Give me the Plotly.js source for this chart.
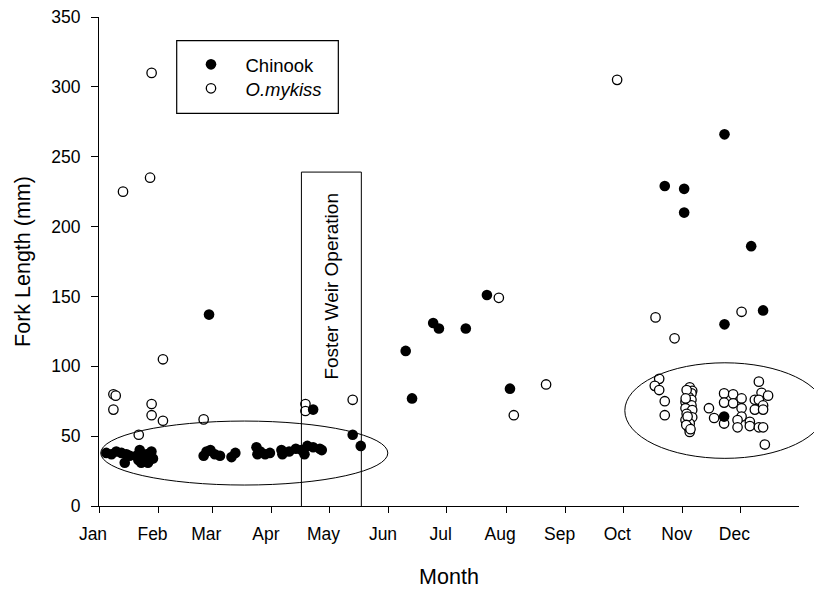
<!DOCTYPE html>
<html>
<head>
<meta charset="utf-8">
<script src="https://cdn.plot.ly/plotly-3.0.1.min.js"></script>
<style>html,body{margin:0;padding:0;background:#fff;}#chart{width:814px;height:590px;}</style>
</head>
<body>
<div id="chart"></div>
<script>
// Month tick positions (day of year) and labels
var monthDays = [0, 31, 59, 90, 120, 151, 181, 212, 243, 273, 304, 334];
var monthLabels = ["Jan","Feb","Mar","Apr","May","Jun","Jul","Aug","Sep","Oct","Nov","Dec"];

// Chinook: day of year and fork length (mm)
var chinookDay = [3.8, 6.5, 9.0, 11.7, 13.4, 14.3, 16.0, 19.5, 20.5, 21.2, 22.0, 23.8, 24.7, 25.5, 26.4, 27.3, 28.1,
  54.5, 56, 58, 60.3, 63, 69, 71, 82, 82.5, 84, 86.5, 89, 95, 95.5, 99, 102.5, 105.5, 107, 108.5, 111.5, 115, 116,
  57.3, 111.5, 132.1, 136.3, 159.7, 163, 174, 177, 191, 202, 214, 294.6, 304.7, 304.7, 325.7, 339.6, 325.7, 345.8, 325.5];
var chinookLen = [38, 37, 39, 38, 31, 37, 36, 36, 33, 40, 31, 36, 37, 31, 33, 39, 34,
  36, 39, 40, 37, 36, 35, 38, 42, 37, 39, 37, 38, 40, 37, 39, 41, 40, 37, 43, 42, 41, 40,
  137, 69, 51, 43, 111, 77, 131, 127, 127, 151, 84, 229, 227, 210, 266, 186, 130, 140, 64];

// O. mykiss: day of year and fork length (mm)
var mykissDay = [12.5, 26.6, 27.4, 7.5, 8.7, 7.5, 27.4, 27.4, 33.3, 33.3, 20.7, 54.5, 107.5, 107.5, 132.1,
  208.2, 216, 232.8, 269.8, 289.8, 299.7, 334.6,
  291.7, 289.4, 291.7, 294.6, 294.6,
  307.6, 308.9, 308.5, 307.1, 308.5, 305.4, 308.5, 305.4, 308.9, 306, 308.9, 305.4, 307.6, 307.1, 307.6, 306, 305.5, 306.5, 305.8, 308,
  317.6, 320.3, 325.5, 325.5, 325.5, 330.2, 330.2, 334.6, 334.6, 334.6, 332.5, 332.5, 338.9, 338.9,
  343.6, 345, 348.4, 341.5, 343.6, 345.8, 341.5, 345.8, 343.6, 345.8, 346.7];
var mykissLen = [225, 235, 310, 80, 79, 69, 73, 65, 105, 61, 51, 62, 73, 68, 76,
  149, 65, 87, 305, 135, 120, 139,
  91, 86, 83, 75, 65,
  85, 82.5, 80.6, 78, 76, 74.5, 72, 70, 68.7, 66, 63.5, 61.5, 59, 56, 53, 83, 77, 64, 58, 55,
  70, 63, 59, 80.6, 74, 80, 73.5, 77, 70, 64, 61.5, 56.3, 60.3, 57.2,
  89, 81, 79, 76, 76, 72, 69, 69, 56.3, 56.3, 44];

var xRange = [0, 364.5];
var yRange = [0, 350];
function px(d) { return (d - xRange[0]) / (xRange[1] - xRange[0]); }
function py(v) { return (v - yRange[0]) / (yRange[1] - yRange[0]); }

var font = "Liberation Sans, Arial, sans-serif";

var traces = [
  { x: mykissDay, y: mykissLen, type: "scatter", mode: "markers", name: "<i>O.mykiss</i>", legend: "legend2",
    marker: { symbol: "circle", size: 9.4, color: "#ffffff", line: { color: "#000000", width: 1.3 } } },
  { x: chinookDay, y: chinookLen, type: "scatter", mode: "markers", name: "Chinook", legend: "legend",
    marker: { symbol: "circle", size: 10.6, color: "#000000", line: { color: "#000000", width: 0 } } }
];

var legendBase = {
  x: 0.1107, xanchor: "left", yanchor: "top",
  bgcolor: "rgba(0,0,0,0)", borderwidth: 0, itemwidth: 59,
  font: { family: font, size: 18.5, color: "#000" }
};

var layout = {
  width: 814, height: 590,
  margin: { l: 99, r: 15, t: 17, b: 84, pad: 0 },
  paper_bgcolor: "#ffffff", plot_bgcolor: "#ffffff",
  font: { family: font, size: 17.5, color: "#000000" },
  showlegend: true,
  legend: Object.assign({}, legendBase, { y: 0.9411 }),
  legend2: Object.assign({}, legendBase, { y: 0.892 }),
  xaxis: {
    range: xRange, showgrid: false, zeroline: false,
    showline: true, linecolor: "#000", linewidth: 1, mirror: false,
    ticks: "outside", ticklen: 6, tickwidth: 1, tickcolor: "#000",
    tickmode: "array", tickvals: monthDays, ticktext: monthLabels,
    ticklabelshift: -6, ticklabelstandoff: 6,
    tickfont: { family: font, size: 17.5, color: "#000" },
    title: { text: "Month", font: { family: font, size: 21.5, color: "#000" }, standoff: 25 }
  },
  yaxis: {
    range: yRange, showgrid: false, zeroline: false,
    showline: true, linecolor: "#000", linewidth: 1,
    ticks: "outside", ticklen: 7, tickwidth: 1, tickcolor: "#000",
    tickmode: "linear", tick0: 0, dtick: 50, ticklabelstandoff: 7,
    tickfont: { family: font, size: 17.5, color: "#000" },
    title: { text: "Fork Length (mm)", font: { family: font, size: 21.5, color: "#000" }, standoff: 14 }
  },
  shapes: [
    // Foster Weir operation window
    { type: "rect", xref: "x", yref: "y", x0: 105.4, x1: 136.6, y0: -0.5, y1: 239,
      line: { color: "#000", width: 1 }, fillcolor: "rgba(0,0,0,0)", layer: "above" },
    // Ellipse around winter-spring Chinook
    { type: "circle", xref: "x", yref: "y", x0: 0.9, x1: 150.4, y0: 15, y1: 60.8,
      line: { color: "#000", width: 1 }, fillcolor: "rgba(0,0,0,0)", layer: "above" },
    // Ellipse around fall O. mykiss (extends past right of axis)
    { type: "circle", xref: "paper", yref: "paper", x0: px(273.8), x1: px(378), y0: py(34.1), y1: py(102.5),
      line: { color: "#000", width: 1 }, fillcolor: "rgba(0,0,0,0)", layer: "above" },
    // Legend border
    { type: "rect", xref: "paper", yref: "paper", x0: 0.111, x1: 0.3419, y0: 0.8031, y1: 0.9515,
      line: { color: "#000", width: 1.2 }, fillcolor: "rgba(0,0,0,0)", layer: "above" }
  ],
  annotations: [
    { text: "Foster Weir Operation", xref: "x", yref: "y", x: 121.2, y: 157.6,
      textangle: -90, showarrow: false, font: { family: font, size: 19, color: "#000" } }
  ]
};

Plotly.newPlot("chart", traces, layout, { staticPlot: true, displayModeBar: false });
</script>
</body>
</html>
